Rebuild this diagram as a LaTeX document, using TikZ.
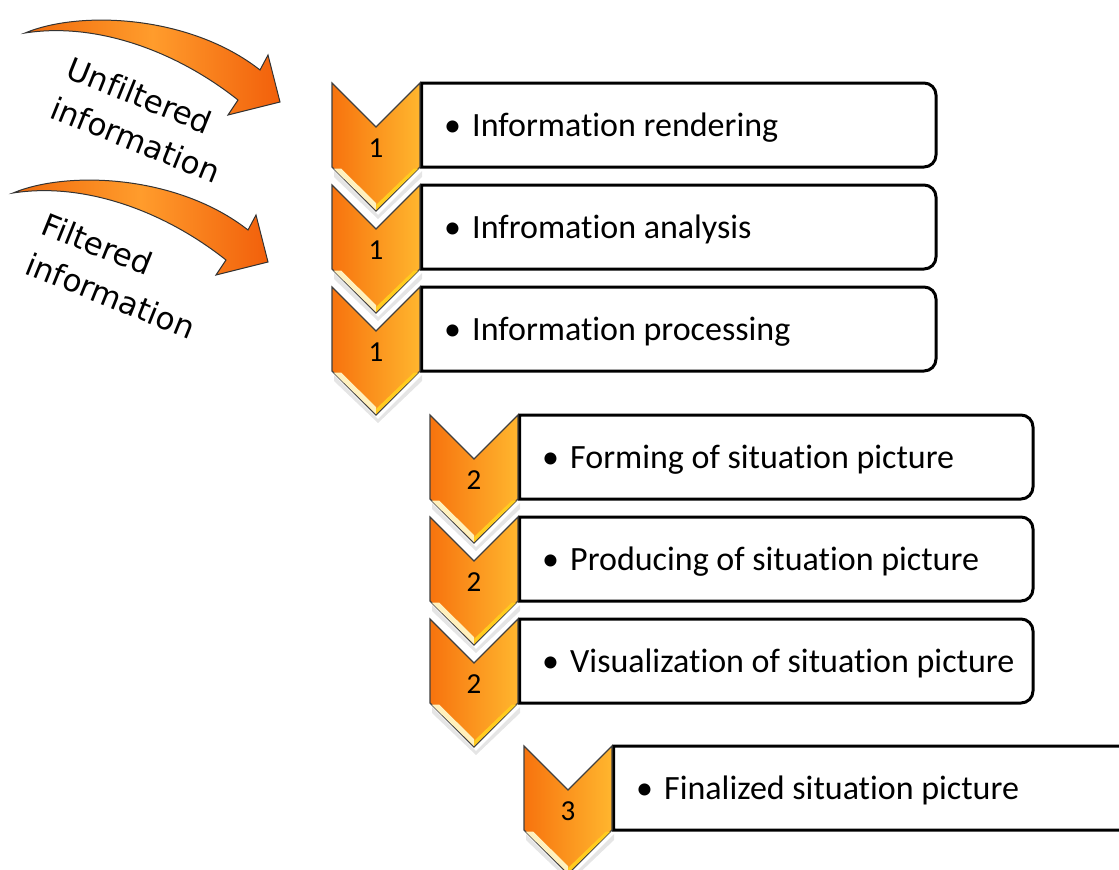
\documentclass[tikz,border=0pt]{standalone}
\usepackage{fontspec}
\setmainfont{Carlito}[Ligatures={NoCommon,NoRequired,NoContextual}]
\newfontfamily\labelfont{DejaVu Sans}[Ligatures={NoCommon,NoRequired,NoContextual}]
\definecolor{chevdark}{HTML}{F7730E}
\definecolor{chevlight}{HTML}{FFB62E}
\definecolor{bevel}{HTML}{FFF1BE}
\definecolor{arrowdark}{HTML}{F06A0C}
\definecolor{arrowlight}{HTML}{FF9C2C}

\begin{document}
\begin{tikzpicture}[x=1pt,y=-1pt,
    chev/.style={left color=chevdark, right color=chevlight, draw=black!75, line width=1.2pt},
    stepbox/.style={draw=black, fill=white, line width=3pt},
    steptext/.style={anchor=base west, inner sep=0pt, font=\fontsize{34}{36}\selectfont},
    stepnum/.style={anchor=base, inner sep=0pt, font=\fontsize{29}{32}\selectfont},
    bigarrow/.style={left color=arrowdark, right color=arrowdark!90!red, middle color=arrowlight, draw=black!80, line width=1pt},
    infolabel/.style={align=left, rotate=-22, inner sep=0pt, font=\labelfont\fontsize{31}{43}\selectfont}]

    \clip (0,0) rectangle (1119,870);

    % incoming arrows
    \foreach \sx/\sy in {0/0,-12/160}{
    \begin{scope}[shift={(\sx,\sy)}]
    \draw[bigarrow] (25,33) .. controls (80,10) and (190,15) .. (260,70) -- (268,55) -- (280,102)
        -- (228,115) -- (238,100) .. controls (175,50) and (95,22) .. (25,33) -- cycle;
    \end{scope}
    }
    \node[infolabel] (unfiltered) at (144,120) {Unfiltered\\information};
    \node[infolabel] (filtered) at (119,276) {Filtered\\information};

    % steps: chevron left / top / box right / number / text
    \foreach \x/\t/\r/\n/\lbl [count=\i] in {332/83/936/1/Information rendering,
        332/185/936/1/Infromation analysis,
        332/287/936/1/Information processing,
        430/415/1033/2/Forming of situation picture,
        430/517/1033/2/Producing of situation picture,
        430/619/1033/2/Visualization of situation picture,
        524/746/1140/3/Finalized situation picture}{
    \draw[stepbox] (\x+89.5,\t) [rounded corners=12pt] -- (\r,\t) -- (\r,\t+84) [sharp corners] -- (\x+89.5,\t+84) -- cycle;
    \node[steptext] (txt\i) at (\x+112,\t+53) {\makebox[28pt][l]{\textbullet}\lbl};
    \fill[black, opacity=0.1] (\x+2,\t+88) -- (\x+46,\t+132) -- (\x+90,\t+88) -- (\x+90,\t+94) -- (\x+46,\t+136) -- (\x+2,\t+94) -- cycle;
    \draw[chev] (\x,\t) -- (\x+44,\t+44) -- (\x+88,\t) -- (\x+88,\t+84) -- (\x+44,\t+128) -- (\x,\t+84) -- cycle;
    \fill[bevel] (\x+1.5,\t+85.5) -- (\x+44,\t+127) -- (\x+44,\t+120) -- (\x+9,\t+85.5) -- cycle;
    \fill[chevlight!70!yellow] (\x+86.5,\t+85.5) -- (\x+44,\t+127) -- (\x+44,\t+122) -- (\x+82,\t+85.5) -- cycle;
    \node[stepnum] (num\i) at (\x+44,\t+74) {\n};
    }
\end{tikzpicture}
\end{document}
